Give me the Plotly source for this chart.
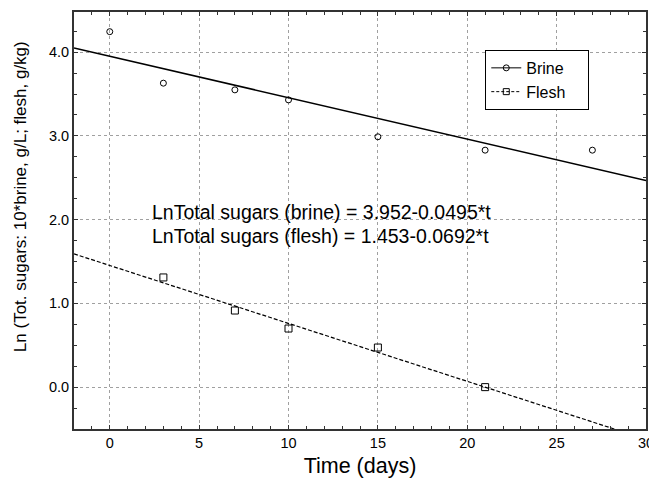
import plotly.graph_objects as go

# Data
time_brine = [0, 3, 7, 10, 15, 21, 27]
ln_brine = [4.245, 3.63, 3.55, 3.43, 2.99, 2.83, 2.83]
time_flesh = [3, 7, 10, 15, 21]
ln_flesh = [1.31, 0.915, 0.70, 0.473, 0.0]

# Regression coefficients (from the chart's equations)
brine_intercept, brine_slope = 3.952, -0.0495
flesh_intercept, flesh_slope = 1.453, -0.0692
fit_t = [-2, 30]

x_ticks = [0, 5, 10, 15, 20, 25, 30]
y_ticks = [0.0, 1.0, 2.0, 3.0, 4.0]
y_ticklabels = ["0.0", "1.0", "2.0", "3.0", "4.0"]
series_names = ["Brine", "Flesh"]

FONT = "Liberation Sans, Arial, sans-serif"
PAD = "\u00a0\u00a0\u00a0\u00a0"

fig = go.Figure()

fig.add_trace(go.Scatter(
    x=fit_t, y=[brine_intercept + brine_slope * t for t in fit_t],
    mode="lines", line=dict(color="black", width=1.5), showlegend=False, hoverinfo="skip"))
fig.add_trace(go.Scatter(
    x=fit_t, y=[flesh_intercept + flesh_slope * t for t in fit_t],
    mode="lines", line=dict(color="black", width=1.2, dash="4px,2px"), showlegend=False, hoverinfo="skip"))

fig.add_trace(go.Scatter(
    x=time_brine, y=ln_brine, mode="markers", showlegend=False,
    marker=dict(symbol="circle-open", size=6, color="black", line=dict(width=1))))
fig.add_trace(go.Scatter(
    x=time_flesh, y=ln_flesh, mode="markers", showlegend=False,
    marker=dict(symbol="square-open", size=7, color="black", line=dict(width=1))))

# legend entries
fig.add_trace(go.Scatter(
    x=[None], y=[None], mode="lines+markers", name=series_names[0] + PAD,
    line=dict(color="black", width=1),
    marker=dict(symbol="circle-open", size=6, color="black", line=dict(width=1))))
fig.add_trace(go.Scatter(
    x=[None], y=[None], mode="lines+markers", name=series_names[1] + PAD,
    line=dict(color="black", width=1, dash="3px,2px"),
    marker=dict(symbol="square-open", size=6, color="black", line=dict(width=1))))

axis_common = dict(
    showline=True, linecolor="#333333", linewidth=2, mirror="ticks",
    ticks="inside", ticklen=4, tickcolor="#333333", tickwidth=1,
    showgrid=True, gridcolor="#a0a0a0", gridwidth=1, griddash="dot",
    zeroline=False, automargin=False,
    tickfont=dict(family=FONT, size=14.5, color="black"),
)

fig.update_xaxes(
    range=[-2, 30], tickvals=x_ticks,
    minor=dict(dtick=1, ticks="inside", ticklen=3, tickcolor="#333333", showgrid=False),
    title=dict(text="Time (days)", font=dict(family=FONT, size=21.5, color="black"), standoff=8),
    **axis_common)
fig.update_yaxes(
    range=[-0.5, 4.48], tickvals=y_ticks, ticktext=y_ticklabels,
    minor=dict(dtick=0.25, tick0=0, ticks="inside", ticklen=3, tickcolor="#333333", showgrid=False),
    **axis_common)

# y-axis title (placed as annotation to match off-centre position)
fig.add_annotation(x=-0.0944, y=0.556, xref="paper", yref="paper", xanchor="center", yanchor="middle",
                   text="Ln (Tot. sugars: 10*brine, g/L; flesh, g/kg)", textangle=-90, showarrow=False,
                   font=dict(family=FONT, size=17, color="black"))

fig.add_annotation(x=2.27, y=2.095, xref="x", yref="y", xanchor="left", yanchor="middle",
                   text="LnTotal sugars (brine) = 3.952-0.0495*t", showarrow=False,
                   font=dict(family=FONT, size=19.5, color="black"))
fig.add_annotation(x=2.27, y=1.80, xref="x", yref="y", xanchor="left", yanchor="middle",
                   text="LnTotal sugars (flesh) = 1.453-0.0692*t", showarrow=False,
                   font=dict(family=FONT, size=19.5, color="black"))

fig.update_layout(
    width=649, height=475,
    margin=dict(l=66, r=11, t=4, b=54),
    paper_bgcolor="white", plot_bgcolor="white",
    legend=dict(x=0.719, y=0.909, xanchor="left", yanchor="top",
                bgcolor="white", bordercolor="black", borderwidth=1,
                font=dict(family=FONT, size=16, color="black"),
                itemwidth=30, tracegroupgap=0),
    showlegend=True,
)

fig.write_html("out.html")
